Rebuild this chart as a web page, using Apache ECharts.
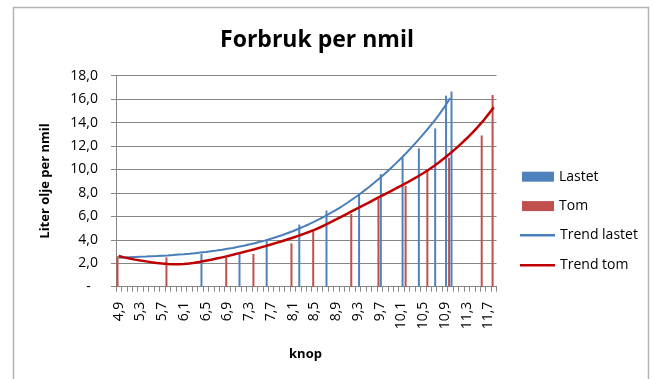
<!DOCTYPE html>
<html>
<head>
<meta charset="utf-8">
<title>Forbruk per nmil</title>
<script src="https://cdn.jsdelivr.net/npm/echarts@6/dist/echarts.min.js"></script>
<style>
  html, body { margin: 0; padding: 0; background: #fff; }
  #chart { width: 653px; height: 379px; }
</style>
</head>
<body>
<div id="chart"></div>
<script>
// Speed categories (knop), one per 0.1 knot
const knop = [4.9, 5.0, 5.1, 5.2, 5.3, 5.4, 5.5, 5.6, 5.7, 5.8, 5.9, 6.0, 6.1, 6.2, 6.3, 6.4, 6.5, 6.6, 6.7, 6.8,
  6.9, 7.0, 7.1, 7.2, 7.3, 7.4, 7.5, 7.6, 7.7, 7.8, 7.9, 8.0, 8.1, 8.2, 8.3, 8.4, 8.5, 8.6, 8.7, 8.8,
  8.9, 9.0, 9.1, 9.2, 9.3, 9.4, 9.5, 9.6, 9.7, 9.8, 9.9, 10.0, 10.1, 10.2, 10.3, 10.4, 10.5, 10.6, 10.7, 10.8,
  10.9, 11.0, 11.1, 11.2, 11.3, 11.4, 11.5, 11.6, 11.7, 11.8];

// Measured consumption, loaded boat
const lastetKnop = [6.4, 7.1, 7.6, 8.2, 8.7, 9.3, 9.7, 10.1, 10.4, 10.7, 10.9, 11.0];
const lastetLiter = [2.8, 2.9, 3.9, 5.3, 6.5, 8.0, 9.6, 11.0, 11.8, 13.5, 16.3, 16.65];

// Measured consumption, empty boat
const tomKnop = [4.9, 5.8, 6.9, 7.4, 8.1, 8.5, 9.2, 9.7, 10.2, 10.6, 11.0, 11.6, 11.8];
const tomLiter = [2.6, 2.5, 2.5, 2.8, 3.7, 4.85, 6.2, 7.5, 8.6, 10.0, 11.0, 12.9, 16.35];

// Trend curves, one value per category (loaded trend stops at 11,0)
const trendLastet = [2.47, 2.49, 2.51, 2.53, 2.55, 2.57, 2.60, 2.62, 2.65, 2.67,
  2.70, 2.74, 2.77, 2.81, 2.86, 2.91, 2.96, 3.02, 3.08, 3.15,
  3.23, 3.31, 3.40, 3.49, 3.60, 3.71, 3.83, 3.95, 4.09, 4.24,
  4.39, 4.56, 4.73, 4.92, 5.12, 5.33, 5.55, 5.78, 6.03, 6.29,
  6.56, 6.84, 7.14, 7.46, 7.78, 8.13, 8.49, 8.86, 9.25, 9.66,
  10.08, 10.52, 10.98, 11.45, 11.95, 12.46, 12.99, 13.54, 14.11, 14.72,
  15.38, 16.1];
const trendTom = [2.62, 2.50, 2.40, 2.31, 2.23, 2.16, 2.09, 2.03, 1.98, 1.94,
  1.92, 1.91, 1.93, 1.97, 2.04, 2.12, 2.21, 2.30, 2.40, 2.50,
  2.61, 2.72, 2.84, 2.96, 3.08, 3.20, 3.33, 3.46, 3.60, 3.74,
  3.88, 4.03, 4.18, 4.34, 4.50, 4.67, 4.85, 5.05, 5.27, 5.50,
  5.74, 5.98, 6.22, 6.46, 6.70, 6.94, 7.18, 7.42, 7.66, 7.90,
  8.14, 8.38, 8.62, 8.87, 9.13, 9.40, 9.68, 9.98, 10.30, 10.64,
  11.00, 11.38, 11.78, 12.20, 12.64, 13.10, 13.60, 14.12, 14.70, 15.30];

// Value axis range
const yMin = 0, yMax = 18, yStep = 2;

const fmt = v => v.toFixed(1).replace('.', ',');
const cats = knop.map(fmt);
const pairs = (xs, ys) => xs.map((k, i) => [fmt(k), ys[i]]);

const FONT = '"Open Sans", "Liberation Sans", sans-serif';
const GREY = '#868686';
const legendText = { fontSize: 14, color: '#000', fontFamily: FONT };

const chart = echarts.init(document.getElementById('chart'), null, { renderer: 'canvas' });
chart.setOption({
  animation: false,
  backgroundColor: '#ffffff',
  textStyle: { fontFamily: FONT },
  grid: { left: 116, right: 156.5, top: 75.7, bottom: 92.3, containLabel: false },
  xAxis: {
    type: 'category',
    data: cats,
    boundaryGap: true,
    axisLine: { lineStyle: { color: GREY, width: 1 } },
    axisTick: { show: true, interval: 0, length: 5, lineStyle: { color: GREY } },
    axisLabel: { interval: 3, rotate: 90, margin: 15, fontSize: 14, color: '#000', fontFamily: FONT },
    splitLine: { show: false }
  },
  yAxis: {
    type: 'value',
    min: yMin, max: yMax, interval: yStep,
    axisLine: { show: true, lineStyle: { color: GREY, width: 1 } },
    axisTick: { show: true, length: 5, lineStyle: { color: GREY } },
    axisLabel: {
      margin: 18, fontSize: 14, color: '#000', fontFamily: FONT,
      formatter: v => (v === 0 ? '-  ' : fmt(v))
    },
    splitLine: { lineStyle: { color: GREY, width: 1 } }
  },
  legend: [
    {
      orient: 'vertical', left: 517, top: 164.7, padding: 5,
      itemWidth: 32, itemHeight: 10, itemGap: 15.4, icon: 'rect',
      textStyle: legendText,
      data: ['Lastet', 'Tom']
    },
    {
      orient: 'vertical', left: 515, top: 223.2, padding: 5,
      itemWidth: 35, itemHeight: 2.5, itemGap: 16, icon: 'rect',
      textStyle: legendText,
      data: ['Trend lastet', 'Trend tom']
    }
  ],
  series: [
    {
      name: 'Tom', type: 'bar', barWidth: 2, barGap: '20%',
      itemStyle: { color: '#C0504D' },
      data: pairs(tomKnop, tomLiter)
    },
    {
      name: 'Lastet', type: 'bar', barWidth: 2, barGap: '20%',
      itemStyle: { color: '#4F81BD' },
      data: pairs(lastetKnop, lastetLiter)
    },
    {
      name: 'Trend lastet', type: 'line', symbol: 'none', z: 4,
      lineStyle: { color: '#4A7EBB', width: 2 },
      itemStyle: { color: '#4A7EBB' },
      data: trendLastet
    },
    {
      name: 'Trend tom', type: 'line', symbol: 'none', z: 5,
      lineStyle: { color: '#C00000', width: 2.5 },
      itemStyle: { color: '#C00000' },
      data: trendTom
    }
  ],
  graphic: [
    {
      type: 'rect', silent: true, z: -10,
      shape: { x: 13.5, y: 7.5, width: 635, height: 400 },
      style: { fill: 'none', stroke: '#b3b3b3', lineWidth: 1.5 }
    },
    {
      type: 'text', x: 317, y: 40,
      style: {
        text: 'Forbruk per nmil', font: 'bold 23px ' + FONT, fill: '#000',
        align: 'center', verticalAlign: 'middle', textAlign: 'center', textVerticalAlign: 'middle'
      }
    },
    {
      type: 'text', x: 45, y: 181, rotation: Math.PI / 2,
      style: {
        text: 'Liter olje per nmil', font: 'bold 13px ' + FONT, fill: '#000',
        align: 'center', verticalAlign: 'middle', textAlign: 'center', textVerticalAlign: 'middle'
      }
    },
    {
      type: 'text', x: 305.5, y: 354,
      style: {
        text: 'knop', font: 'bold 13px ' + FONT, fill: '#000',
        align: 'center', verticalAlign: 'middle', textAlign: 'center', textVerticalAlign: 'middle'
      }
    }
  ]
});
</script>
</body>
</html>
